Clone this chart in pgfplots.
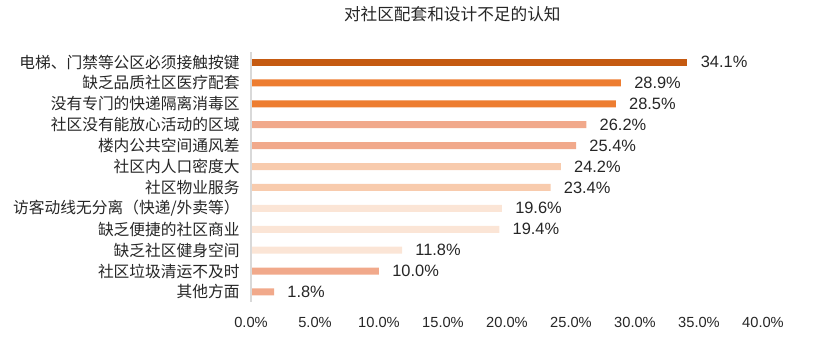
\documentclass[border=0pt]{standalone}
\usepackage{fontspec}
\setmainfont{Noto Sans CJK SC}
\newfontfamily\numfont{Liberation Sans}
\usepackage{pgfplots}
\pgfplotsset{compat=1.18}
\definecolor{c1}{HTML}{C55A11}
\definecolor{c2}{HTML}{ED7D31}
\definecolor{c3}{HTML}{F1A98B}
\definecolor{c4}{HTML}{F8CBAD}
\definecolor{c5}{HTML}{FBE5D6}
\definecolor{axgray}{HTML}{D9D9D9}
\begin{document}
\begin{tikzpicture}[x=1pt,y=1pt]
\path (-188.25,-30) rectangle (425.25,226.5);
\begin{axis}[
  at={(0,0)}, anchor=south west,
  scale only axis,
  width=384pt, height=187.5pt,
  xmin=0, xmax=40, ymin=-0.48, ymax=11.48,
  xbar, bar width=5.25pt, bar shift=0pt,
  axis line style={draw=none},
  xtick={0,5,...,40},
  xticklabel={\pgfmathprintnumber[fixed,fixed zerofill,precision=1]{\tick}\%},
  /pgf/number format/assume math mode=true,
  xticklabel style={font=\numfont\fontsize{11}{13}\selectfont, text=black!85, yshift=-8.25pt},
  major tick length=0pt,
  ytick={0,...,11},
  yticklabels={其他方面,社区垃圾清运不及时,缺乏社区健身空间,缺乏便捷的社区商业,访客动线无分离（快递/外卖等）,社区物业服务,社区内人口密度大,楼内公共空间通风差,社区没有能放心活动的区域,没有专门的快递隔离消毒区,缺乏品质社区医疗配套,电梯、门禁等公区必须接触按键},
  yticklabel style={font=\fontsize{11.8}{13}\selectfont, text=black!85, xshift=-5pt},
  point meta=x,
  nodes near coords={\pgfmathprintnumber[fixed,fixed zerofill,precision=1]{\pgfplotspointmeta}\%},
  nodes near coords style={font=\numfont\fontsize{12.3}{14}\selectfont, text=black!85, anchor=west, xshift=6.5pt},
  clip=false,
]
\addplot[fill=c1, draw=none] coordinates {(34.1,11)};
\addplot[fill=c2, draw=none] coordinates {(28.9,10) (28.5,9)};
\addplot[fill=c3, draw=none] coordinates {(26.2,8) (25.4,7)};
\addplot[fill=c4, draw=none] coordinates {(24.2,6) (23.4,5)};
\addplot[fill=c5, draw=none] coordinates {(19.6,4) (19.4,3) (11.8,2)};
\addplot[fill=c3, draw=none] coordinates {(10.0,1) (1.8,0)};
\draw[axgray, line width=1.5pt] (axis cs:0,-0.48) -- (axis cs:0,11.48);
\end{axis}
\node[font=\fontsize{12.5}{14}\selectfont, text=black!85] at (151,216) {对社区配套和设计不足的认知};
\end{tikzpicture}
\end{document}
